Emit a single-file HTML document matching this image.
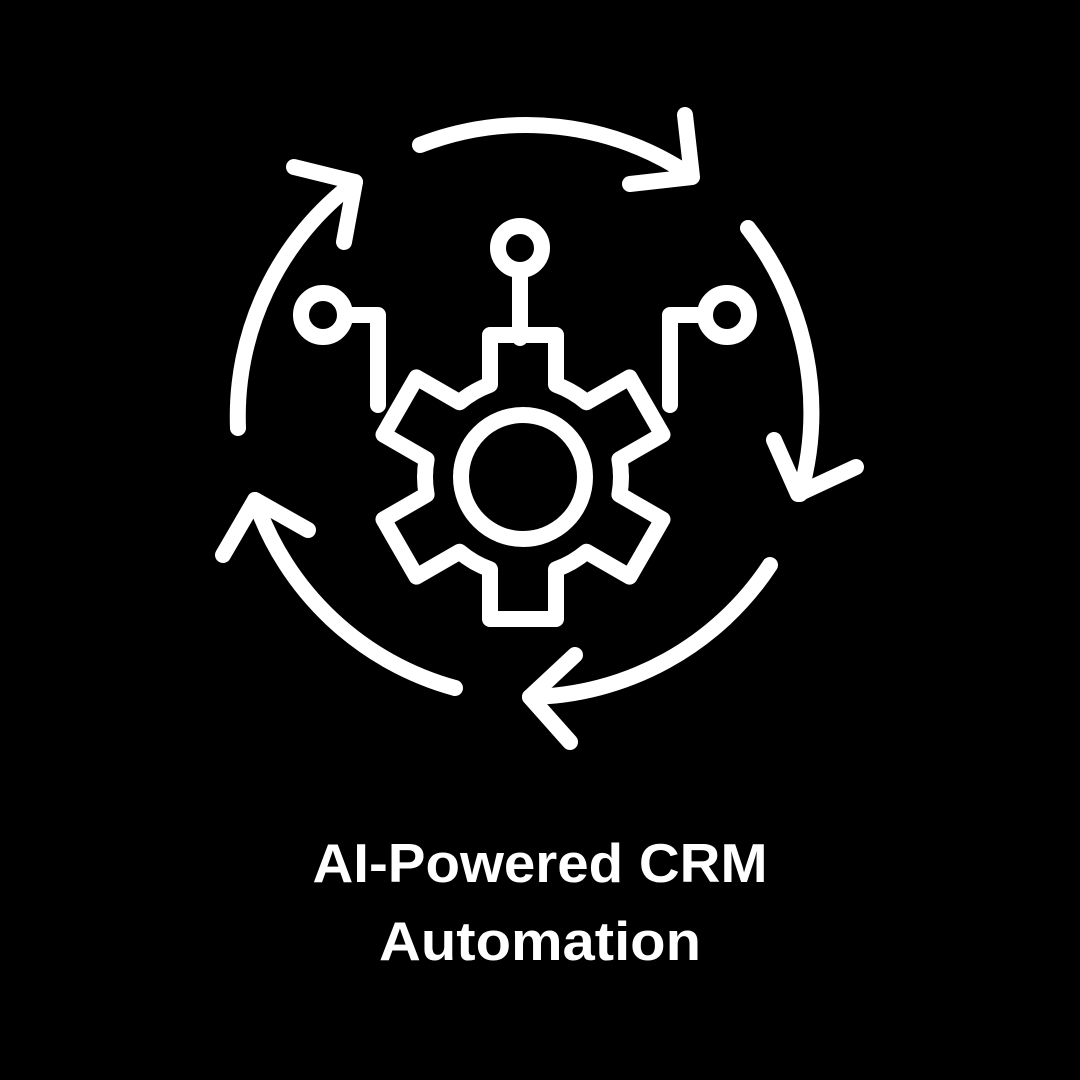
<!DOCTYPE html>
<html><head><meta charset="utf-8"><style>html,body{margin:0;padding:0;background:#000}svg{display:block}</style></head>
<body>
<svg id="s" width="1080" height="1080" viewBox="0 0 1080 1080" xmlns="http://www.w3.org/2000/svg">
<rect width="1080" height="1080" fill="#000"/>
<g fill="none" stroke="#fff" stroke-width="16" stroke-linecap="round" stroke-linejoin="round">
  <path d="M420 145 A293 293 0 0 1 690 175"/>
  <path d="M685 115 L692 177 L630 184"/>
  <path d="M238 428 A293 293 0 0 1 355 182"/>
  <path d="M294 167 L355 182 L344 242"/>
  <path d="M748 228 A300 300 0 0 1 800 494"/>
  <path d="M774 440 L798 494 L856 467"/>
  <path d="M770 565 A293 293 0 0 1 530 697"/>
  <path d="M575 655 L530 697 L570 742"/>
  <path d="M455 688 A293 293 0 0 1 255 500"/>
  <path d="M223 555 L255 500 L308 530"/>
  <circle cx="520" cy="248" r="22"/>
  <path d="M520 270 L520 338"/>
  <circle cx="323" cy="315" r="22"/>
  <path d="M345 315 L378 315 L378 405"/>
  <circle cx="727" cy="315" r="22"/>
  <path d="M705 315 L670 315 L670 405"/>
  <path id="gear" d=""/>
  <circle cx="523" cy="477" r="62"/>
</g>
<text x="540" y="882" text-anchor="middle" font-family="Liberation Sans, sans-serif" font-weight="bold" font-size="55" fill="#fff" textLength="455" lengthAdjust="spacingAndGlyphs">AI-Powered CRM</text>
<text x="540" y="960" text-anchor="middle" font-family="Liberation Sans, sans-serif" font-weight="bold" font-size="55" fill="#fff" textLength="322" lengthAdjust="spacingAndGlyphs">Automation</text>
</svg>
<script>
(function(){
 var cx=523,cy=477,R=142,r=98,hw=33;
 var d="";
 function pt(a,rad,off){
   var ux=Math.cos(a),uy=Math.sin(a),tx=-uy,ty=ux;
   return [cx+ux*rad+tx*off, cy+uy*rad+ty*off];
 }
 for(var i=0;i<6;i++){
   var a=-Math.PI/2+i*Math.PI/3;
   var base=Math.sqrt(r*r-hw*hw);
   var p1=pt(a,base,-hw),p2=pt(a,R,-hw),p3=pt(a,R,hw),p4=pt(a,base,hw);
   d+=(i==0?"M":"L")+p1[0].toFixed(1)+" "+p1[1].toFixed(1)+" L"+p2[0].toFixed(1)+" "+p2[1].toFixed(1)+" L"+p3[0].toFixed(1)+" "+p3[1].toFixed(1)+" L"+p4[0].toFixed(1)+" "+p4[1].toFixed(1);
   var an=a+Math.PI/3;
   var q=pt(an,base,-hw);
   d+=" A"+r+" "+r+" 0 0 1 "+q[0].toFixed(1)+" "+q[1].toFixed(1)+" ";
 }
 d+="Z";
 document.getElementById("gear").setAttribute("d",d);
})();
</script>
</body></html>
